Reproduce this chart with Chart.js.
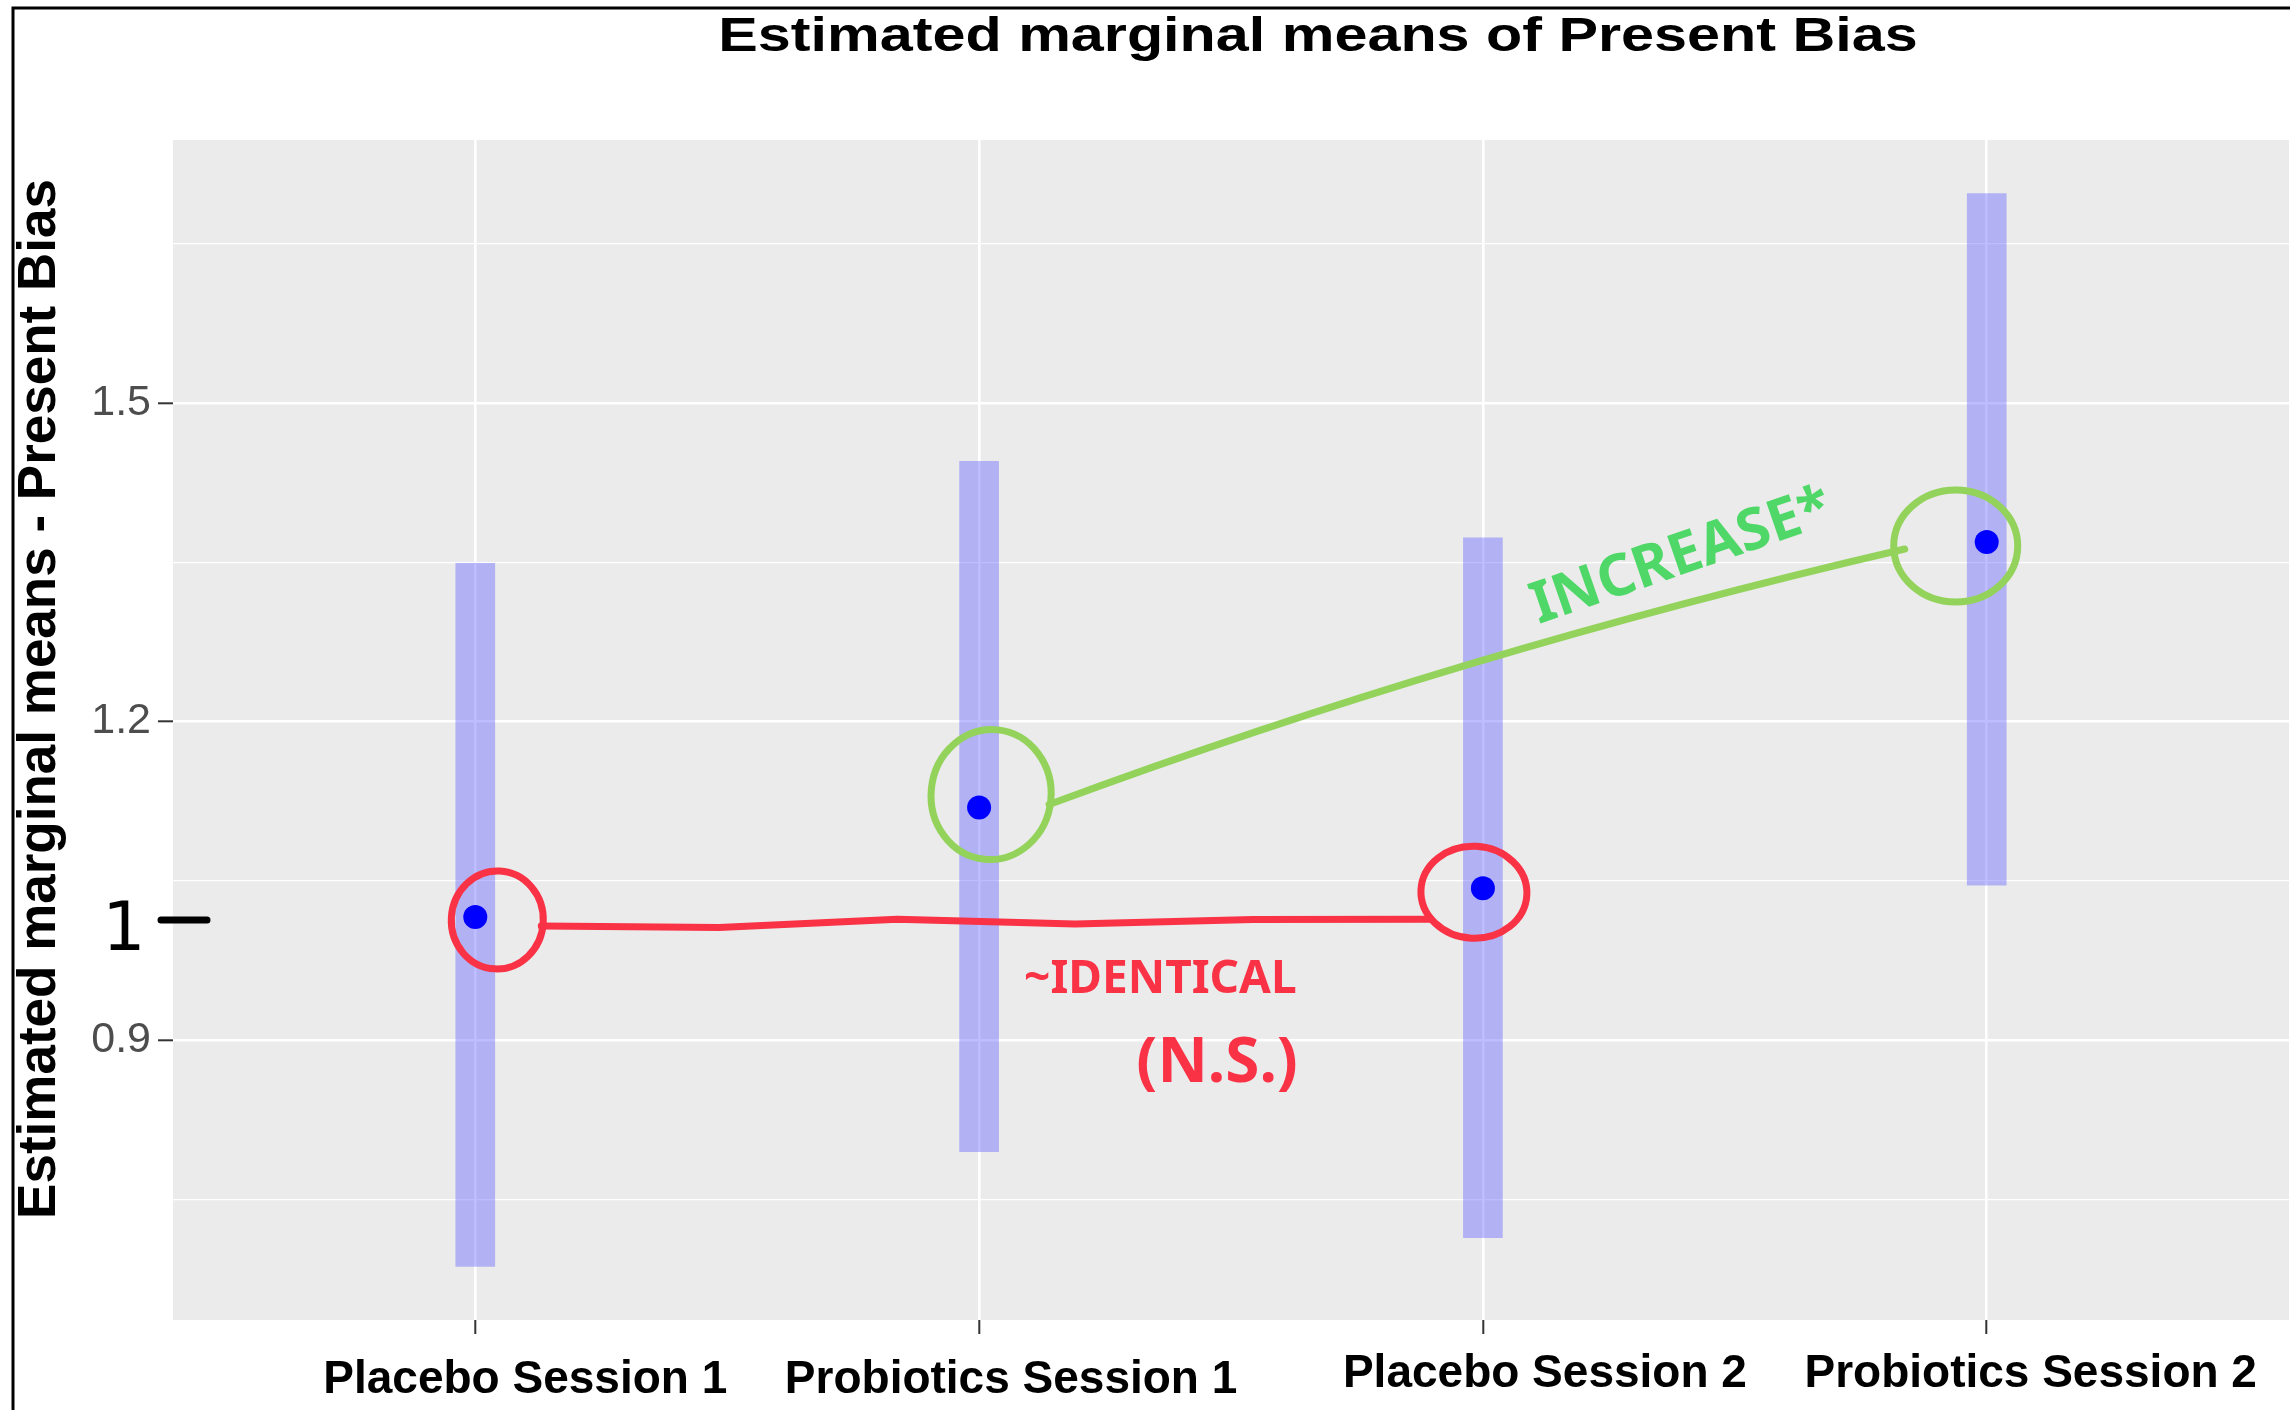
<!DOCTYPE html>
<html lang="en">
<head>
<meta charset="UTF-8">
<title>Estimated marginal means of Present Bias</title>
<script src="https://cdn.jsdelivr.net/npm/chart.js"></script>
<style>
  html, body { margin: 0; padding: 0; background: #fff; }
  #wrap { width: 2290px; height: 1410px; position: relative; }
</style>
</head>
<body>
<div id="wrap"><canvas id="emmChart"></canvas></div>
<script>
// data
const groups  = ['Placebo Session 1', 'Probiotics Session 1', 'Placebo Session 2', 'Probiotics Session 2'];
const emmeans = [1.016, 1.119, 1.043, 1.369];
const lowerCI = [0.687, 0.795, 0.714, 1.046];
const upperCI = [1.349, 1.445, 1.373, 1.697];
const yTicks    = [0.75, 0.9, 1.05, 1.2, 1.35, 1.5, 1.65];
const yLabelled = [0.9, 1.2, 1.5];

// ggplot style 5% expansion of the data range
const lo = Math.min(...lowerCI), hi = Math.max(...upperCI);
const yMin = lo - 0.05 * (hi - lo);
const yMax = hi + 0.05 * (hi - lo);

const isMajor = v => yLabelled.some(m => Math.abs(m - v) < 1e-6);

// x label nudges (the labels sit a bit right of their ticks in the picture)
const labelShift = [50, 32, 62, 44];
const labelDrop  = [73, 73, 67, 67];

const RED = '#FA3246', GREEN = '#93D35B', GREEN_TXT = '#4FD868';

function ellipse(ctx, cx, cy, rx, ry, rot, color) {
  ctx.beginPath();
  ctx.ellipse(cx, cy, rx, ry, rot, 0, Math.PI * 2);
  ctx.strokeStyle = color;
  ctx.lineWidth = 7;
  ctx.stroke();
}

const decorations = {
  id: 'decorations',
  beforeDraw(chart) {
    const { ctx, chartArea: a } = chart;
    ctx.save();
    ctx.fillStyle = '#fff';
    ctx.fillRect(0, 0, chart.width, chart.height);
    ctx.fillStyle = '#EBEBEB';
    ctx.fillRect(a.left, a.top, a.right - a.left, a.bottom - a.top);
    ctx.restore();
  },
  afterDraw(chart) {
    const { ctx, chartArea: a } = chart;
    const xs = chart.scales.x, ys = chart.scales.y;
    ctx.save();

    // screenshot frame (top + left)
    ctx.strokeStyle = '#000';
    ctx.lineWidth = 3;
    ctx.beginPath();
    ctx.moveTo(13, chart.height);
    ctx.lineTo(13, 8);
    ctx.lineTo(chart.width, 8);
    ctx.stroke();

    // title
    ctx.fillStyle = '#000';
    ctx.font = 'bold 49px "Liberation Sans", Arial, sans-serif';
    ctx.textAlign = 'center';
    ctx.textBaseline = 'alphabetic';
    ctx.save();
    ctx.translate(1318, 51);
    ctx.scale(1.21, 1);
    ctx.fillText('Estimated marginal means of Present Bias', 0, 0);
    ctx.restore();

    // y axis title
    ctx.save();
    ctx.translate(55, 699);
    ctx.rotate(-Math.PI / 2);
    ctx.font = 'bold 53px "Liberation Sans", Arial, sans-serif';
    ctx.fillText('Estimated marginal means - Present Bias', 0, 0);
    ctx.restore();

    // x category labels
    ctx.font = 'bold 46px "Liberation Sans", Arial, sans-serif';
    groups.forEach((g, i) => {
      ctx.fillText(g, xs.getPixelForValue(i) + labelShift[i], a.bottom + labelDrop[i]);
    });

    // hand-drawn notes
    const p = emmeans.map((v, i) => ({ x: xs.getPixelForValue(i), y: ys.getPixelForValue(v) }));
    ctx.lineCap = 'round';
    ctx.lineJoin = 'round';

    // "1 —" marker
    const y1 = ys.getPixelForValue(1);
    ctx.fillStyle = '#000';
    ctx.font = '68px "DejaVu Sans", sans-serif';
    ctx.fillText('1', 124, y1 + 16);
    ctx.strokeStyle = '#000';
    ctx.lineWidth = 7;
    ctx.beginPath();
    ctx.moveTo(161, y1 - 14);
    ctx.lineTo(207, y1 - 14);
    ctx.stroke();

    // red: placebo sessions
    ellipse(ctx, p[0].x + 22, p[0].y + 3, 46, 49, 0.05, RED);
    ellipse(ctx, p[2].x - 9, p[2].y + 4, 53, 46, 0.05, RED);
    const rs = { x: p[0].x + 66, y: p[0].y + 9 };
    const re = { x: p[2].x - 52, y: p[2].y + 31 };
    const wob = [0, 3, -4, 2, -1, 0];
    ctx.strokeStyle = RED;
    ctx.lineWidth = 7;
    ctx.beginPath();
    wob.forEach((w, k) => {
      const t = k / (wob.length - 1);
      const x = rs.x + t * (re.x - rs.x), y = rs.y + t * (re.y - rs.y) + w;
      k ? ctx.lineTo(x, y) : ctx.moveTo(x, y);
    });
    ctx.stroke();
    ctx.fillStyle = RED;
    ctx.textAlign = 'left';
    ctx.font = 'bold 46px "Noto Sans", sans-serif';
    ctx.fillText('~IDENTICAL', p[1].x + 45, p[0].y + 76, 296);
    ctx.textAlign = 'center';
    ctx.font = 'bold 62px "Noto Sans", sans-serif';
    ctx.fillText('(N.S.)', p[1].x + 238, p[0].y + 165, 170);

    // green: probiotics sessions
    ellipse(ctx, p[1].x + 12, p[1].y - 13, 60, 65, 0.1, GREEN);
    ellipse(ctx, p[3].x - 31, p[3].y + 4, 62, 56, 0, GREEN);
    ctx.strokeStyle = GREEN;
    ctx.lineWidth = 7;
    ctx.beginPath();
    ctx.moveTo(p[1].x + 70, p[1].y - 3);
    ctx.quadraticCurveTo(p[2].x - 22, p[3].y + 110, p[3].x - 82, p[3].y + 7);
    ctx.stroke();
    ctx.save();
    ctx.translate(p[3].x - 448, p[3].y + 82);
    ctx.rotate(-19 * Math.PI / 180);
    ctx.fillStyle = GREEN_TXT;
    ctx.textAlign = 'left';
    ctx.font = 'bold 58px "Noto Sans", sans-serif';
    ctx.fillText('INCREASE*', 0, 0, 350);
    ctx.restore();

    ctx.restore();
  }
};

const ctx = document.getElementById('emmChart');
const emmChart = new Chart(ctx, {
  type: 'bar',
  data: {
    datasets: [
      {
        type: 'bar',
        label: 'CI',
        data: groups.map((g, i) => ({ x: i, y: [lowerCI[i], upperCI[i]] })),
        backgroundColor: 'rgba(90, 90, 255, 0.4)',
        borderWidth: 0,
        barThickness: 39,
        order: 2
      },
      {
        type: 'scatter',
        label: 'EMM',
        data: groups.map((g, i) => ({ x: i, y: emmeans[i] })),
        pointRadius: 12,
        pointBackgroundColor: '#0000FF',
        pointBorderWidth: 0,
        order: 1
      }
    ]
  },
  options: {
    responsive: true,
    maintainAspectRatio: false,
    animation: false,
    layout: { autoPadding: false, padding: { top: 140, right: 1, left: 0, bottom: 0 } },
    plugins: {
      legend: { display: false },
      title: { display: false },
      tooltip: { enabled: false }
    },
    scales: {
      x: {
        type: 'linear',
        min: -0.6,
        max: 3.6,
        offset: false,
        afterBuildTicks: s => { s.ticks = groups.map((g, i) => ({ value: i })); },
        afterFit: s => { s.height = 90; },
        grid: { offset: false, color: '#fff', lineWidth: 2.6, tickColor: '#333', tickLength: 14, tickWidth: 2 },
        border: { display: false },
        ticks: { color: 'rgba(0,0,0,0)', callback: () => '' }
      },
      y: {
        min: yMin,
        max: yMax,
        afterBuildTicks: s => { s.ticks = yTicks.map(v => ({ value: v })); },
        afterFit: s => { s.width = 173; },
        grid: {
          color: '#fff',
          lineWidth: c => (c.tick && isMajor(c.tick.value)) ? 2.6 : 1.3,
          tickColor: c => (c.tick && isMajor(c.tick.value)) ? '#333' : 'rgba(0,0,0,0)',
          tickLength: 15,
          tickWidth: 2
        },
        border: { display: false },
        ticks: {
          padding: 7,
          color: '#4D4D4D',
          font: { family: '"Liberation Sans", Arial, sans-serif', size: 43 },
          callback: v => isMajor(v) ? v.toFixed(1) : ''
        }
      }
    }
  },
  plugins: [decorations]
});
</script>
</body>
</html>
